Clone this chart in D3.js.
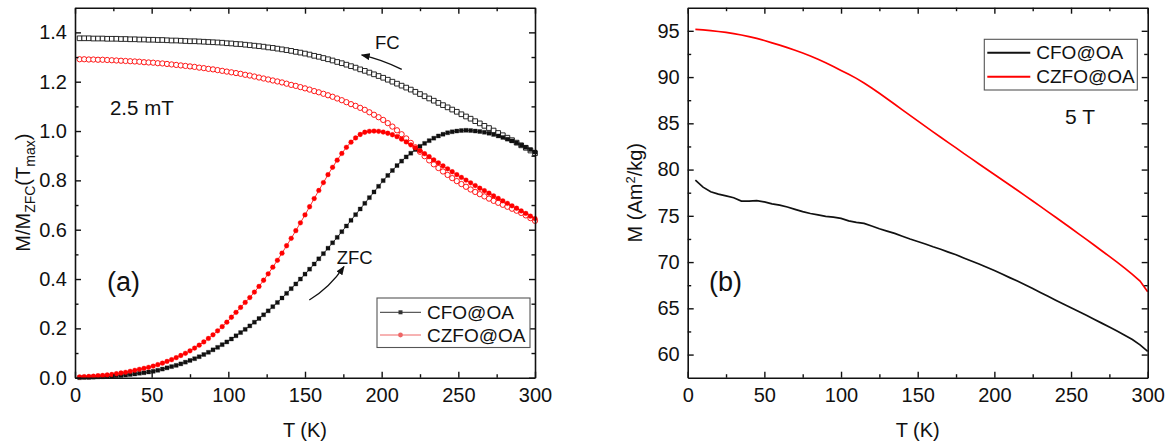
<!DOCTYPE html>
<html>
<head>
<meta charset="utf-8">
<script src="https://cdn.jsdelivr.net/npm/d3@7"></script>
<style>
body { margin: 0; background: #fff; }
svg { font-family: "Liberation Sans", Arial, sans-serif; }
</style>
</head>
<body>
<svg id="chart" width="1175" height="445"></svg>
<script>

// panel (a): M/M_ZFC(Tmax) at 2.5 mT, ZFC and FC branches
var tempsA = [3,6,9,12,15,18,21,24,27,30,
    33,36,39,42,45,48,51,54,57,60,
    63,66,69,72,75,78,81,84,87,90,
    93,96,99,102,105,108,111,114,117,120,
    123,126,129,132,135,138,141,144,147,150,
    153,156,159,162,165,168,171,174,177,180,
    183,186,189,192,195,198,201,204,207,210,
    213,216,219,222,225,228,231,234,237,240,
    243,246,249,252,255,258,261,264,267,270,
    273,276,279,282,285,288,291,294,297,300];

var cfoZfc = [0.000,0.001,0.001,0.002,0.003,0.004,0.005,0.006,0.008,0.009,
    0.011,0.013,0.015,0.018,0.020,0.023,0.026,0.030,0.035,0.040,
    0.045,0.050,0.056,0.063,0.070,0.077,0.085,0.094,0.103,0.113,
    0.123,0.134,0.145,0.157,0.170,0.183,0.196,0.210,0.225,0.240,
    0.255,0.271,0.288,0.305,0.323,0.342,0.361,0.380,0.400,0.420,
    0.440,0.461,0.482,0.503,0.525,0.547,0.569,0.592,0.615,0.638,
    0.661,0.684,0.707,0.730,0.753,0.776,0.799,0.820,0.840,0.860,
    0.878,0.895,0.910,0.925,0.938,0.950,0.961,0.971,0.980,0.987,
    0.993,0.997,1.000,1.002,1.003,1.002,1.000,0.998,0.995,0.991,
    0.986,0.980,0.974,0.967,0.960,0.952,0.943,0.934,0.925,0.915];

var cfoFc = [1.376,1.376,1.376,1.375,1.375,1.375,1.374,1.374,1.374,1.373,
    1.373,1.372,1.372,1.371,1.371,1.370,1.370,1.369,1.369,1.368,
    1.367,1.367,1.366,1.365,1.364,1.364,1.363,1.362,1.361,1.360,
    1.359,1.358,1.356,1.355,1.353,1.352,1.350,1.348,1.346,1.344,
    1.342,1.339,1.337,1.334,1.331,1.328,1.325,1.321,1.318,1.314,
    1.310,1.305,1.301,1.296,1.291,1.286,1.280,1.275,1.269,1.263,
    1.257,1.250,1.244,1.237,1.230,1.223,1.216,1.208,1.200,1.192,
    1.184,1.176,1.168,1.159,1.150,1.141,1.132,1.123,1.114,1.105,
    1.096,1.087,1.078,1.068,1.059,1.050,1.040,1.031,1.021,1.012,
    1.002,0.992,0.983,0.973,0.963,0.953,0.942,0.932,0.921,0.910];

var czfoZfc = [0.003,0.004,0.005,0.006,0.008,0.009,0.011,0.013,0.016,0.019,
    0.022,0.026,0.030,0.034,0.038,0.042,0.047,0.053,0.059,0.066,
    0.073,0.081,0.090,0.099,0.109,0.120,0.132,0.145,0.159,0.174,
    0.190,0.207,0.225,0.245,0.265,0.285,0.305,0.325,0.347,0.370,
    0.395,0.421,0.448,0.476,0.505,0.535,0.565,0.596,0.628,0.660,
    0.693,0.726,0.759,0.791,0.823,0.853,0.882,0.909,0.934,0.955,
    0.972,0.986,0.995,0.999,1.000,0.999,0.996,0.991,0.985,0.977,
    0.967,0.956,0.944,0.932,0.920,0.908,0.896,0.883,0.871,0.859,
    0.847,0.835,0.823,0.812,0.801,0.790,0.779,0.768,0.758,0.748,
    0.737,0.727,0.717,0.707,0.697,0.687,0.676,0.666,0.655,0.645];

var czfoFc = [1.291,1.291,1.290,1.290,1.289,1.289,1.288,1.287,1.286,1.285,
    1.284,1.283,1.282,1.281,1.279,1.278,1.277,1.275,1.274,1.272,
    1.270,1.268,1.266,1.264,1.262,1.260,1.257,1.255,1.252,1.250,
    1.247,1.244,1.241,1.238,1.235,1.232,1.228,1.225,1.221,1.217,
    1.213,1.209,1.205,1.201,1.197,1.192,1.187,1.183,1.178,1.173,
    1.168,1.162,1.157,1.151,1.145,1.139,1.132,1.125,1.117,1.109,
    1.102,1.094,1.086,1.076,1.066,1.056,1.045,1.032,1.018,1.003,
    0.987,0.970,0.952,0.934,0.916,0.898,0.881,0.865,0.850,0.836,
    0.822,0.809,0.797,0.785,0.774,0.763,0.753,0.744,0.735,0.726,
    0.717,0.709,0.701,0.693,0.685,0.677,0.668,0.658,0.647,0.636];

// panel (b): M(T) at 5 T
var tempsB = [5,10,15,20,25,30,35,40,45,50,
    55,60,65,70,75,80,85,90,95,100,
    105,110,115,120,125,130,135,140,145,150,
    155,160,165,170,175,180,185,190,195,200,
    205,210,215,220,225,230,235,240,245,250,
    255,260,265,270,275,280,285,290,295,300];

var cfoM = [78.85,78.10,77.60,77.35,77.15,76.95,76.60,76.60,76.65,76.50,
    76.30,76.15,75.95,75.70,75.45,75.25,75.10,74.95,74.85,74.72,
    74.45,74.30,74.18,73.90,73.60,73.35,73.10,72.80,72.50,72.23,
    71.95,71.65,71.38,71.08,70.80,70.45,70.12,69.80,69.45,69.08,
    68.70,68.32,67.95,67.55,67.15,66.72,66.30,65.88,65.47,65.05,
    64.65,64.25,63.82,63.40,62.98,62.55,62.10,61.62,61.05,60.35];

var czfoM = [95.15,95.10,95.02,94.93,94.83,94.70,94.55,94.38,94.18,93.95,
    93.70,93.45,93.18,92.90,92.60,92.28,91.92,91.55,91.15,90.72,
    90.30,89.86,89.36,88.82,88.25,87.66,87.06,86.46,85.86,85.26,
    84.67,84.08,83.49,82.91,82.35,81.75,81.18,80.61,80.04,79.47,
    78.90,78.33,77.76,77.18,76.60,76.02,75.43,74.84,74.25,73.65,
    73.05,72.45,71.84,71.23,70.61,69.99,69.35,68.68,67.95,66.80];

var seriesNames = ["CFO@OA", "CZFO@OA"];
var xTicks = [0, 50, 100, 150, 200, 250, 300];
var xMinor = [25, 75, 125, 175, 225, 275];
var yTicksA = [0.0, 0.2, 0.4, 0.6, 0.8, 1.0, 1.2, 1.4];
var yMinorA = [0.1, 0.3, 0.5, 0.7, 0.9, 1.1, 1.3];
var yTicksB = [60, 65, 70, 75, 80, 85, 90, 95];
var yMinorB = [62.5, 67.5, 72.5, 77.5, 82.5, 87.5, 92.5];

var RED = "#ff0000";
var INK = "#111";

var svg = d3.select("#chart");

var defs = svg.append("defs");
defs.append("marker")
    .attr("id", "arrow")
    .attr("markerUnits", "userSpaceOnUse")
    .attr("markerWidth", 9).attr("markerHeight", 7)
    .attr("refX", 8).attr("refY", 3.5)
    .attr("orient", "auto")
    .append("path")
    .attr("d", "M0,0 L9,3.5 L0,7 z")
    .attr("fill", INK);

/**
 * draws the boxed frame with inward ticks for one panel
 */
function drawFrame(p, x, y, yTicks, yMinor, yFmt) {
    var g = svg.append("g");
    var bottom = p.top + p.height, right = p.left + p.width;

    var axes = [
        {a: d3.axisBottom(x).tickValues(xTicks).tickFormat(d3.format("d")).tickPadding(10), t: [0, bottom], len: 6},
        {a: d3.axisBottom(x).tickValues(xMinor).tickFormat(""), t: [0, bottom], len: 3.5, minor: true},
        {a: d3.axisTop(x).tickValues(xTicks).tickFormat(""), t: [0, p.top], len: 6},
        {a: d3.axisTop(x).tickValues(xMinor).tickFormat(""), t: [0, p.top], len: 3.5, minor: true},
        {a: d3.axisLeft(y).tickValues(yTicks).tickFormat(yFmt).tickPadding(8), t: [p.left, 0], len: 6},
        {a: d3.axisLeft(y).tickValues(yMinor).tickFormat(""), t: [p.left, 0], len: 3.5, minor: true},
        {a: d3.axisRight(y).tickValues(yTicks).tickFormat(""), t: [right, 0], len: 6},
        {a: d3.axisRight(y).tickValues(yMinor).tickFormat(""), t: [right, 0], len: 3.5, minor: true}
    ];
    axes.forEach(function(ax){
        var ag = g.append("g")
            .attr("transform", "translate(" + ax.t[0] + "," + ax.t[1] + ")")
            .call(ax.a.tickSizeInner(-ax.len).tickSizeOuter(0));
        if (ax.minor) ag.select(".domain").remove();
        ag.select(".domain").attr("stroke", INK).attr("stroke-width", 1.6);
        ag.selectAll(".tick line").attr("stroke", INK).attr("stroke-width", 1.4);
        ag.selectAll("text")
            .attr("fill", INK)
            .style("font-family", "'Liberation Sans', Arial, sans-serif")
            .style("font-size", "20px");
    });

    // x title
    g.append("text")
        .attr("x", p.left + p.width / 2)
        .attr("y", bottom + 59)
        .attr("text-anchor", "middle")
        .attr("fill", INK)
        .style("font-size", "20px")
        .text("T (K)");
    return g;
}

/**
 * scatter series with a thin connecting line under the markers
 */
function drawSeries(x, y, temps, vals, color, symbol, size, filled) {
    var pts = temps.map(function(t, i){ return [t, vals[i]]; });
    var g = svg.append("g");
    g.append("path")
        .datum(pts)
        .attr("fill", "none")
        .attr("stroke", color)
        .attr("stroke-width", 0.8)
        .attr("d", d3.line().x(function(d){ return x(d[0]); }).y(function(d){ return y(d[1]); }));
    g.selectAll("path.pt").data(pts).enter().append("path")
        .attr("class", "pt")
        .attr("transform", function(d){ return "translate(" + x(d[0]) + "," + y(d[1]) + ")"; })
        .attr("d", d3.symbol().type(symbol).size(size))
        .attr("fill", filled ? color : "#fff")
        .attr("stroke", color)
        .attr("stroke-width", filled ? 0.3 : 0.9);
}

function label(x, y, t, v, txt, size, anchor) {
    return svg.append("text")
        .attr("x", x(t))
        .attr("y", y(v))
        .attr("text-anchor", anchor || "start")
        .attr("fill", INK)
        .style("font-size", size + "px")
        .text(txt);
}

function legend(box, rows) {
    var g = svg.append("g");
    g.append("rect")
        .attr("x", box.x).attr("y", box.y)
        .attr("width", box.w).attr("height", box.h)
        .attr("fill", "#fff")
        .attr("stroke", "#555")
        .attr("stroke-width", 1.1);
    rows.forEach(function(r, i){
        var yy = box.y + box.first + i * box.step;
        g.append("line")
            .attr("x1", box.x + 3).attr("x2", box.x + 3 + box.line)
            .attr("y1", yy).attr("y2", yy)
            .attr("stroke", r.color)
            .attr("stroke-width", r.width);
        if (r.symbol) {
            g.append("path")
                .attr("transform", "translate(" + (box.x + 3 + box.line / 2) + "," + yy + ")")
                .attr("d", d3.symbol().type(r.symbol).size(r.size))
                .attr("fill", r.color);
        }
        g.append("text")
            .attr("x", box.x + box.line + 9)
            .attr("y", yy)
            .attr("dy", "0.35em")
            .attr("fill", INK)
            .style("font-size", "19px")
            .text(r.name);
    });
}

// ---------------- panel (a)
var pA = {left: 75, top: 7.7, width: 460, height: 370};
var xA = d3.scaleLinear().domain([0, 300]).range([pA.left, pA.left + pA.width]);
var yA = d3.scaleLinear().domain([0, 1.5]).range([pA.top + pA.height, pA.top]);

drawSeries(xA, yA, tempsA, cfoFc, INK, d3.symbolSquare, 22, false);
drawSeries(xA, yA, tempsA, czfoFc, RED, d3.symbolCircle, 22, false);
drawSeries(xA, yA, tempsA, cfoZfc, INK, d3.symbolSquare, 16, true);
drawSeries(xA, yA, tempsA, czfoZfc, RED, d3.symbolCircle, 18, true);

drawFrame(pA, xA, yA, yTicksA, yMinorA, d3.format(".1f"));

var yTitleA = svg.append("text")
    .attr("transform", "translate(30," + (pA.top + pA.height / 2) + ") rotate(-90)")
    .attr("text-anchor", "middle")
    .attr("fill", INK)
    .style("font-size", "20px");
yTitleA.append("tspan").text("M/M");
yTitleA.append("tspan").attr("dy", 5).style("font-size", "14px").text("ZFC");
yTitleA.append("tspan").attr("dy", -5).text("(T");
yTitleA.append("tspan").attr("dy", 5).style("font-size", "14px").text("max");
yTitleA.append("tspan").attr("dy", -5).text(")");

label(xA, yA, 22.8, 1.065, "2.5 mT", 20.5);
label(xA, yA, 20.9, 0.352, "(a)", 27);
label(xA, yA, 195.7, 1.331, "FC", 18.5);
label(xA, yA, 170.7, 0.461, "ZFC", 18.5);

// FC and ZFC direction arrows
var arrowsA = [
    {from: [213.1, 1.250], via: [200.0, 1.291], to: [187.0, 1.308]},
    {from: [152.8, 0.315], via: [166.1, 0.364], to: [175.4, 0.450]}
];
arrowsA.forEach(function(a){
    var path = d3.path();
    path.moveTo(xA(a.from[0]), yA(a.from[1]));
    path.quadraticCurveTo(xA(a.via[0]), yA(a.via[1]), xA(a.to[0]), yA(a.to[1]));
    svg.append("path")
        .attr("d", path.toString())
        .attr("fill", "none")
        .attr("stroke", INK)
        .attr("stroke-width", 1.3)
        .attr("marker-end", "url(#arrow)");
});

legend({x: 377, y: 298, w: 153, h: 49.5, first: 14.3, step: 22.7, line: 41},
    [{name: seriesNames[0], color: "#333", width: 1, symbol: d3.symbolSquare, size: 16},
     {name: seriesNames[1], color: "#e66", width: 1, symbol: d3.symbolCircle, size: 18}]);

// ---------------- panel (b)
var pB = {left: 687.7, top: 7.7, width: 460, height: 370};
var xB = d3.scaleLinear().domain([0, 300]).range([pB.left, pB.left + pB.width]);
var yB = d3.scaleLinear().domain([57.5, 97.5]).range([pB.top + pB.height, pB.top]);

var lineB = d3.line()
    .x(function(d){ return xB(d[0]); })
    .y(function(d){ return yB(d[1]); });

[[cfoM, INK], [czfoM, RED]].forEach(function(s){
    svg.append("path")
        .datum(tempsB.map(function(t, i){ return [t, s[0][i]]; }))
        .attr("fill", "none")
        .attr("stroke", s[1])
        .attr("stroke-width", 1.7)
        .attr("d", lineB);
});

drawFrame(pB, xB, yB, yTicksB, yMinorB, d3.format("d"));

var yTitleB = svg.append("text")
    .attr("transform", "translate(642," + (pB.top + pB.height / 2) + ") rotate(-90)")
    .attr("text-anchor", "middle")
    .attr("fill", INK)
    .style("font-size", "20px");
yTitleB.append("tspan").text("M (Am");
yTitleB.append("tspan").attr("dy", -7).style("font-size", "13px").text("2");
yTitleB.append("tspan").attr("dy", 7).text("/kg)");

label(xB, yB, 13.9, 66.87, "(b)", 27);
label(xB, yB, 246.1, 84.93, "5 T", 21);

legend({x: 984.3, y: 39.3, w: 153, h: 50.7, first: 13.4, step: 24, line: 43},
    [{name: seriesNames[0], color: INK, width: 2},
     {name: seriesNames[1], color: RED, width: 2}]);

</script>
</body>
</html>
